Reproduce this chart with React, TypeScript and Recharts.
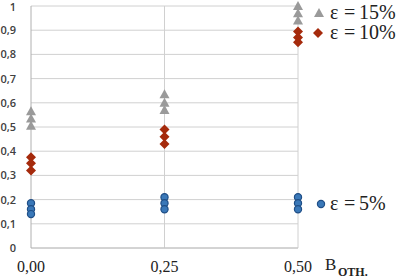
import React from 'react';
import { ScatterChart, Scatter, XAxis, YAxis, CartesianGrid, ReferenceLine } from 'recharts';

const xValues = [0, 0.25, 0.5];
const eps15 = [[0.565, 0.535, 0.505], [0.635, 0.6, 0.57], [1.0, 0.97, 0.94]];
const eps10 = [[0.375, 0.35, 0.32], [0.49, 0.46, 0.43], [0.895, 0.87, 0.85]];
const eps5 = [[0.185, 0.16, 0.14], [0.21, 0.185, 0.16], [0.21, 0.185, 0.16]];
const yTicks = [0, 0.1, 0.2, 0.3, 0.4, 0.5, 0.6, 0.7, 0.8, 0.9, 1];
const xTicks = [0, 0.25, 0.5];
const legendValues = ['15%', '10%', '5%'];

const toPoints = (s: number[][]) =>
  s.flatMap((vals, i) => vals.map((v) => ({ x: xValues[i], y: v })));

const Tri = (p: any) => (
  <polygon points={`${p.cx},${p.cy - 5} ${p.cx + 5},${p.cy + 4} ${p.cx - 5},${p.cy + 4}`} fill="#9a9a9a" />
);
const Dia = (p: any) => (
  <polygon points={`${p.cx},${p.cy - 5} ${p.cx + 5},${p.cy} ${p.cx},${p.cy + 5} ${p.cx - 5},${p.cy}`} fill="#a52a0c" />
);
const Circ = (p: any) => (
  <circle cx={p.cx} cy={p.cy} r={3.6} fill="#3a78b8" stroke="#1f4e86" strokeWidth={1.2} />
);

const fmtY = (v: number) => (v === 0 ? '0' : v === 1 ? '1' : v.toFixed(1).replace('.', ','));
const fmtX = (v: number) => v.toFixed(2).replace('.', ',');

const serif = "'Liberation Serif', 'Times New Roman', serif";
const serifStyle = { fontFamily: serif };

const XTick = (p: any) => (
  <text x={p.x} y={p.y + 16} textAnchor="middle" style={serifStyle} fontSize={16} fill="#222">
    {fmtX(p.payload.value)}
  </text>
);
const YTick = (p: any) => (
  <text
    x={p.x}
    y={p.y + 4 + (p.payload.value === 1 ? 1 : 0)}
    textAnchor="end"
    style={{ fontFamily: "'Open Sans', sans-serif" }}
    fontSize={11}
    fontWeight={600}
    fill="#404040"
  >
    {fmtY(p.payload.value)}
  </text>
);

const LegendRow = ({ y, value }: { y: number; value: string }) => (
  <g style={serifStyle} fontSize={20} fill="#222">
    <text x={330} y={y}>ε</text>
    <text x={344} y={y}>=</text>
    <text x={359} y={y}>{value}</text>
  </g>
);

export default function App() {
  return (
    <div style={{ position: 'absolute', left: 0, top: 0, width: 399, height: 279, background: '#fff' }}>
      <ScatterChart width={399} height={279} margin={{ top: 6, right: 101, bottom: 0, left: 0 }}>
        <CartesianGrid stroke="#d0d0d0" strokeWidth={1} vertical={false} horizontalValues={yTicks} />
        <ReferenceLine x={0.25} stroke="#d0d0d0" />
        <ReferenceLine x={0.5} stroke="#d0d0d0" />
        <XAxis
          type="number"
          dataKey="x"
          domain={[0, 0.5]}
          ticks={xTicks}
          interval={0}
          axisLine={{ stroke: '#c0c0c0' }}
          tickLine={false}
          height={31}
          tick={XTick}
        />
        <YAxis
          type="number"
          dataKey="y"
          domain={[0, 1]}
          ticks={yTicks}
          interval={0}
          axisLine={{ stroke: '#b0b0b0' }}
          tickLine={false}
          width={31}
          tickMargin={9}
          tick={YTick}
        />
        <Scatter data={toPoints(eps5)} shape={Circ} isAnimationActive={false} />
        <Scatter data={toPoints(eps10)} shape={Dia} isAnimationActive={false} />
        <Scatter data={toPoints(eps15)} shape={Tri} isAnimationActive={false} />
      </ScatterChart>
      <svg width={399} height={279} style={{ position: 'absolute', left: 0, top: 0, pointerEvents: 'none' }}>
        <polygon points="319,8 324,17 314,17" fill="#9a9a9a" />
        <LegendRow y={19} value={legendValues[0]} />
        <polygon points="318,28 323,33 318,38 313,33" fill="#a52a0c" />
        <LegendRow y={39} value={legendValues[1]} />
        <circle cx={321} cy={204} r={3.6} fill="#3a78b8" stroke="#1f4e86" strokeWidth={1.2} />
        <LegendRow y={210} value={legendValues[2]} />
        <g style={serifStyle} fill="#222">
          <text x={325} y={270} fontSize={17} style={serifStyle}>B</text>
          <text x={338} y={276} fontSize={12} fontWeight="bold" style={serifStyle}>ОТН.</text>
        </g>
      </svg>
    </div>
  );
}
